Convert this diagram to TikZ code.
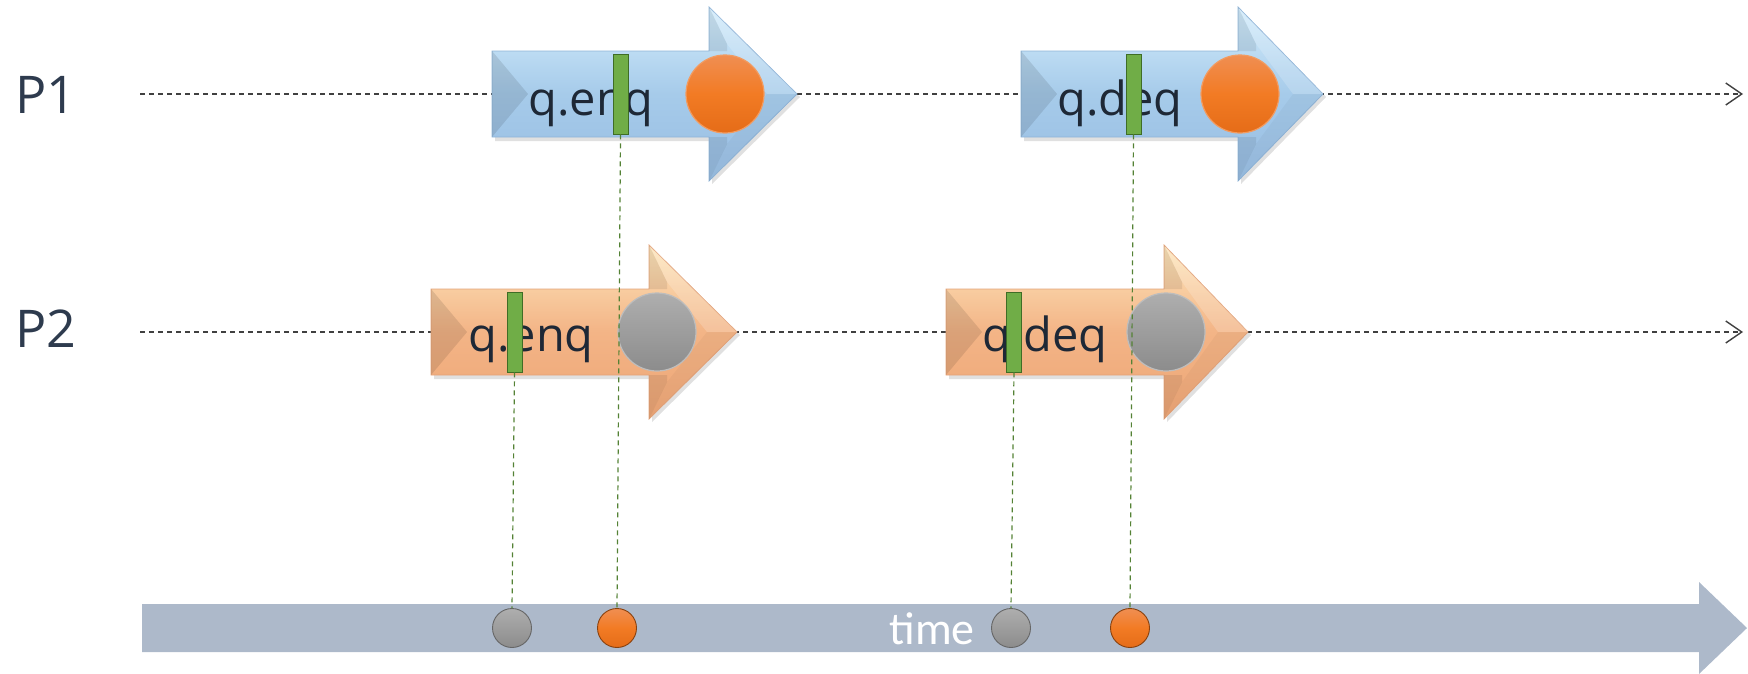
\documentclass[tikz,border=0pt]{standalone}
\usepackage{fontspec}
\setmainfont{Open Sans}
\newfontfamily\axisfont{Carlito}
\usetikzlibrary{arrows.meta}

\definecolor{inkdark}{HTML}{1E2836}
\definecolor{labelink}{HTML}{2E3B4E}
\definecolor{lineink}{HTML}{404040}
% blue operation arrow
\definecolor{bluetop}{HTML}{D3ECFB}
\definecolor{bluemid}{HTML}{A6CBEA}
\definecolor{bluebot}{HTML}{98BDE2}
\definecolor{blueedge}{HTML}{8FB4D8}
% orange operation arrow
\definecolor{orangetop}{HTML}{FDE6BC}
\definecolor{orangemid}{HTML}{F3B486}
\definecolor{orangebot}{HTML}{EDA676}
\definecolor{orangeedge}{HTML}{E3A37A}
% balls and bars
\definecolor{balltop}{HTML}{F08E52}
\definecolor{ballmid}{HTML}{F27B24}
\definecolor{ballbot}{HTML}{E56C18}
\definecolor{balledge}{HTML}{F29B60}
\definecolor{greytop}{HTML}{AEAEAE}
\definecolor{greybot}{HTML}{8C8C8C}
\definecolor{greyedge}{HTML}{BDBDBD}
\definecolor{barfill}{HTML}{70AD47}
\definecolor{baredge}{HTML}{3F6D26}
\definecolor{tickgreen}{HTML}{548235}
\definecolor{axisfill}{HTML}{ADB9CA}

% operation arrow: #1 left x, #2 head start x, #3 tip x, #4 centre y, #5 palette
\newcommand\procarrow[5]{%
  \fill[black,opacity=0.12]
    (#1+3,#4-40) -- (#2+3,#4-40) -- (#2+3,#4-84) -- (#3+3,#4+3) --
    (#2+3,#4+90) -- (#2+3,#4+47) -- (#1+3,#4+47) -- cycle;
  \path[draw=#5edge, line width=0.8pt, top color=#5top, bottom color=#5bot, middle color=#5mid]
    (#1,#4-43) -- (#2,#4-43) -- (#2,#4-87) -- (#3,#4) --
    (#2,#4+87) -- (#2,#4+43) -- (#1,#4+43) -- cycle;
  % bevel facets
  \fill[black,opacity=0.10] (#1,#4-43) -- (#1+36,#4) -- (#1,#4+43) -- cycle;
  \fill[white,opacity=0.18] (#2,#4-87) -- (#3,#4) -- (#3-30,#4) -- (#2+18,#4-50) -- cycle;
  \fill[black,opacity=0.03] (#2,#4+87) -- (#3,#4) -- (#3-30,#4) -- (#2+18,#4+50) -- cycle;
  \fill[black,opacity=0.08] (#2,#4-87) -- (#2+18,#4-50) -- (#2+18,#4-43) -- (#2,#4-43) -- cycle;
  \fill[black,opacity=0.08] (#2,#4+87) -- (#2+18,#4+50) -- (#2+18,#4+43) -- (#2,#4+43) -- cycle;
}

\tikzset{
  timeline/.style={draw=lineink, line width=1.4pt, dash pattern=on 5pt off 4pt,
    -{Straight Barb[length=16pt,width=22pt,line width=1.4pt]}},
  tickline/.style={draw=tickgreen, line width=1.2pt, dash pattern=on 5pt off 4pt},
  optext/.style={anchor=base, inner sep=0pt, text=inkdark, font=\fontsize{47}{47}\selectfont},
  plabel/.style={anchor=base west, inner sep=0pt, text=labelink, font=\fontsize{52}{52}\selectfont},
  bigball/.style={circle, minimum size=78pt, inner sep=0pt, line width=1.2pt},
  orangeball/.style={draw=balledge, top color=balltop, bottom color=ballbot, middle color=ballmid},
  greyball/.style={draw=greyedge, top color=greytop, bottom color=greybot},
  smallball/.style={circle, minimum size=39pt, inner sep=0pt, line width=0.9pt},
  orangetick/.style={draw=ballbot!60!black, top color=balltop, bottom color=ballbot, middle color=ballmid},
  greytick/.style={draw=black!60, top color=greytop, bottom color=greybot},
  bar/.style={rectangle, draw=baredge, fill=barfill, line width=0.8pt,
    minimum width=15pt, minimum height=80pt, inner sep=0pt},
}

\begin{document}
\begin{tikzpicture}[x=1pt, y=-1pt]
\useasboundingbox (0,0) rectangle (1748,673);

% process labels
\node[plabel] (lp1) at (15,113) {P1};
\node[plabel] (lp2) at (15,347) {P2};

% process timelines
\coordinate (p1s) at (140,94);  \coordinate (p1e) at (1743,94);
\coordinate (p2s) at (140,332); \coordinate (p2e) at (1743,332);
\draw[timeline] (p1s) -- (p1e);
\draw[timeline] (p2s) -- (p2e);

% operation arrows
\procarrow{492}{709}{797}{94}{blue}
\procarrow{1021}{1238}{1323}{94}{blue}
\procarrow{431}{649}{737}{332}{orange}
\procarrow{946}{1164}{1248}{332}{orange}

\node[optext] (op1) at (591,115) {q.enq};
\node[optext] (op2) at (1120,115) {q.deq};
\node[optext] (op3) at (531,351) {q.enq};
\node[optext] (op4) at (1045,351) {q.deq};

% result balls
\node[bigball, orangeball] (r1) at (725,94) {};
\node[bigball, orangeball] (r2) at (1240,94) {};
\node[bigball, greyball] (r3) at (657,332) {};
\node[bigball, greyball] (r4) at (1166,332) {};

% time axis
\fill[axisfill] (142,604) -- (1699,604) -- (1699,582) -- (1747,628) --
  (1699,674) -- (1699,652) -- (142,652) -- cycle;
\node[anchor=base, inner sep=0pt, text=white, font=\axisfont\fontsize{46}{46}\selectfont] (tl) at (932,644) {time};

% linearization points
\node[smallball, greytick] (t1) at (512,628) {};
\node[smallball, orangetick] (t2) at (617,628) {};
\node[smallball, greytick] (t3) at (1011,628) {};
\node[smallball, orangetick] (t4) at (1130,628) {};

\node[bar] (b1) at (620.5,94) {};
\node[bar] (b2) at (1133.5,94) {};
\node[bar] (b3) at (514.5,332) {};
\node[bar] (b4) at (1014,332) {};

\draw[tickline] (b1.south) -- (t2.north);
\draw[tickline] (b2.south) -- (t4.north);
\draw[tickline] (b3.south) -- (t1.north);
\draw[tickline] (b4.south) -- (t3.north);
\end{tikzpicture}
\end{document}
